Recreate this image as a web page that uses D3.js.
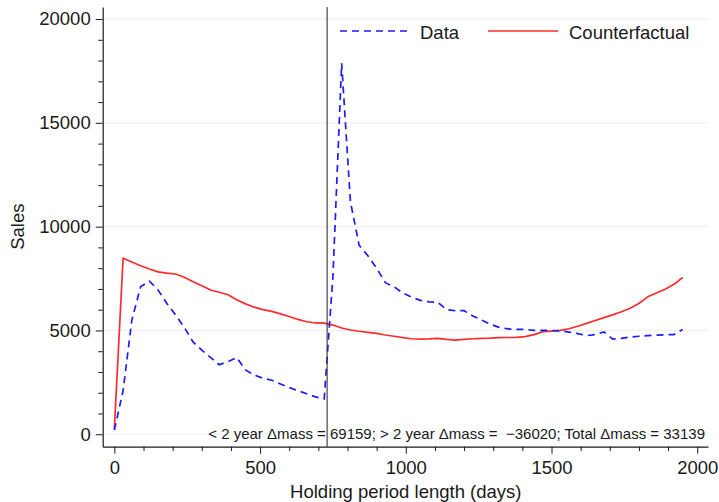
<!DOCTYPE html>
<html>
<head>
<meta charset="utf-8">
<script src="https://cdn.jsdelivr.net/npm/d3@7"></script>
<style>
  body { margin: 0; background: #fff; }
  svg { display: block; font-family: "Liberation Sans", Arial, sans-serif; }
</style>
</head>
<body>
<svg id="chart" width="719" height="502"></svg>
<script>
// holding period (days), sampled every 30 days
const days = [0, 30, 60, 90, 120, 150, 180, 210, 240, 270, 300, 330, 360, 390, 420, 450, 480, 510, 540, 570,
  600, 630, 660, 690, 720, 750, 780, 810, 840, 870, 900, 930, 960, 990, 1020, 1050, 1080, 1110, 1140, 1170,
  1200, 1230, 1260, 1290, 1320, 1350, 1380, 1410, 1440, 1470, 1500, 1530, 1560, 1590, 1620, 1650, 1680, 1710,
  1740, 1770, 1800, 1830, 1860, 1890, 1920, 1950];

// observed sales
const dataSales = [200, 2100, 5500, 7100, 7380, 6950, 6300, 5750, 5150, 4450, 4050, 3700, 3350, 3500, 3700,
  3100, 2850, 2700, 2600, 2420, 2250, 2100, 1950, 1800, 1700, 7600, 17870, 11200, 9100, 8600, 8000, 7300,
  7100, 6800, 6600, 6450, 6380, 6350, 6000, 5950, 5950, 5700, 5500, 5300, 5150, 5080, 5050, 5050, 5000,
  5010, 5000, 4980, 4920, 4850, 4750, 4800, 4930, 4580, 4620, 4680, 4720, 4750, 4770, 4790, 4800, 5050];

// counterfactual sales
const cfSales = [250, 8480, 8300, 8120, 7960, 7820, 7760, 7720, 7560, 7350, 7150, 6950, 6840, 6720, 6480,
  6280, 6120, 6000, 5920, 5800, 5670, 5530, 5420, 5360, 5350, 5260, 5120, 5020, 4960, 4910, 4860, 4780,
  4720, 4650, 4600, 4580, 4590, 4620, 4570, 4530, 4570, 4600, 4620, 4630, 4650, 4660, 4670, 4700, 4800,
  4940, 4970, 5000, 5080, 5200, 5340, 5480, 5620, 5750, 5900, 6070, 6300, 6620, 6800, 6980, 7220, 7550];

const xTicks = [0, 500, 1000, 1500, 2000];
const yTicks = [0, 5000, 10000, 15000, 20000];
const cutoff = 730; // 2 years
const note = "< 2 year \u0394mass = 69159; > 2 year \u0394mass =  \u221236020; Total \u0394mass = 33139";

const svg = d3.select("#chart");

const x = d3.scaleLinear().domain([-40, 2037]).range([102.7, 708]);
const y = d3.scaleLinear().domain([-600, 20580]).range([446.7, 7]);

const blue = "#1c1cff";
const red = "#ff2b2b";
const ink = "#1a1a1a";

// gridlines
svg.append("g")
    .selectAll("line")
    .data(yTicks)
    .enter().append("line")
    .attr("x1", x.range()[0])
    .attr("x2", x.range()[1])
    .attr("y1", d => y(d))
    .attr("y2", d => y(d))
    .attr("stroke", "#edf2f1")
    .attr("stroke-width", 1.2);

// minor ticks first, then major ticks with labels
const yMinor = d3.range(0, 20001, 1000).filter(v => v % 5000 !== 0);
const xMinor = d3.range(0, 2001, 100).filter(v => v % 500 !== 0);

svg.append("g")
    .attr("transform", `translate(${x.range()[0]},0)`)
    .call(d3.axisLeft(y).tickValues(yMinor).tickSize(4.4).tickFormat("").tickSizeOuter(0))
    .call(g => g.select(".domain").remove())
    .selectAll("line").attr("stroke", ink);

svg.append("g")
    .attr("transform", `translate(0,${y.range()[0]})`)
    .call(d3.axisBottom(x).tickValues(xMinor).tickSize(4.4).tickFormat("").tickSizeOuter(0))
    .call(g => g.select(".domain").remove())
    .selectAll("line").attr("stroke", ink);

const yAxis = svg.append("g")
    .attr("transform", `translate(${x.range()[0]},0)`)
    .call(d3.axisLeft(y).tickValues(yTicks).tickFormat(d3.format("d"))
        .tickSize(7).tickPadding(5).tickSizeOuter(0));

const xAxis = svg.append("g")
    .attr("transform", `translate(0,${y.range()[0]})`)
    .call(d3.axisBottom(x).tickValues(xTicks).tickFormat(d3.format("d"))
        .tickSize(7).tickPadding(6).tickSizeOuter(0));

[yAxis, xAxis].forEach(g => {
    g.select(".domain").attr("stroke", ink).attr("stroke-width", 1.2);
    g.selectAll(".tick line").attr("stroke", ink);
    g.selectAll(".tick text")
        .attr("font-size", "18.5px")
        .attr("font-family", "Liberation Sans, Arial, sans-serif")
        .attr("fill", ink);
});
xAxis.selectAll(".tick text").attr("dy", "0.75em");

// series
const line = d3.line()
    .x((d, i) => x(days[i]))
    .y(d => y(d));

svg.append("path")
    .datum(cfSales)
    .attr("d", line)
    .attr("fill", "none")
    .attr("stroke", red)
    .attr("stroke-width", 1.7)
    .attr("stroke-linejoin", "round");

svg.append("path")
    .datum(dataSales)
    .attr("d", line)
    .attr("fill", "none")
    .attr("stroke", blue)
    .attr("stroke-width", 1.7)
    .attr("stroke-dasharray", "7,5");

// 2-year cutoff
svg.append("line")
    .attr("x1", x(cutoff))
    .attr("x2", x(cutoff))
    .attr("y1", y.range()[1])
    .attr("y2", y.range()[0])
    .attr("stroke", "#333")
    .attr("stroke-width", 1.1);

// annotation
svg.append("text")
    .attr("x", 705)
    .attr("y", 438.5)
    .attr("text-anchor", "end")
    .attr("font-size", "15px")
    .attr("fill", ink)
    .style("white-space", "pre")
    .text(note);

// legend
const legend = svg.append("g");
const legendItems = [
    { name: "Data", color: blue, dash: "7,5", x0: 340, x1: 412, tx: 420 },
    { name: "Counterfactual", color: red, dash: null, x0: 488, x1: 558, tx: 569 }
];
legendItems.forEach(d => {
    legend.append("line")
        .attr("x1", d.x0).attr("x2", d.x1)
        .attr("y1", 31).attr("y2", 31)
        .attr("stroke", d.color)
        .attr("stroke-width", 1.7)
        .attr("stroke-dasharray", d.dash);
    legend.append("text")
        .attr("x", d.tx)
        .attr("y", 38.5)
        .attr("font-size", "18.5px")
        .attr("fill", ink)
        .text(d.name);
});

// axis titles
svg.append("text")
    .attr("x", x(1000))
    .attr("y", 498)
    .attr("text-anchor", "middle")
    .attr("font-size", "18.5px")
    .attr("fill", ink)
    .text("Holding period length (days)");

svg.append("text")
    .attr("transform", `translate(24,${y(10000)}) rotate(-90)`)
    .attr("text-anchor", "middle")
    .attr("font-size", "18.5px")
    .attr("fill", ink)
    .text("Sales");
</script>
</body>
</html>
